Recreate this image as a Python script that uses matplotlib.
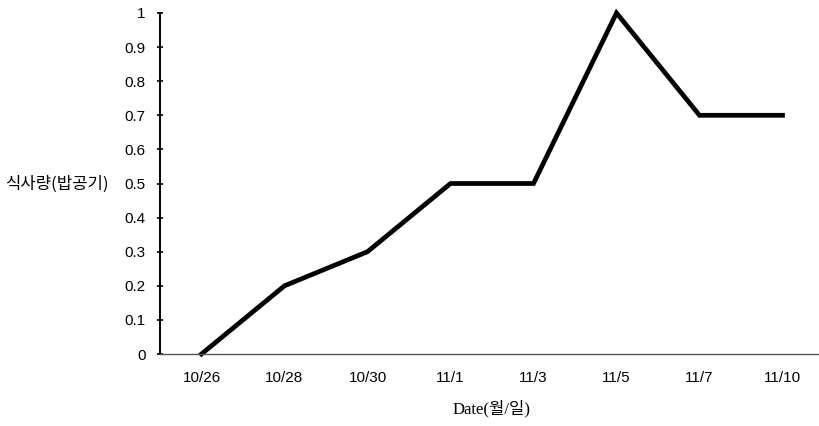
# line chart of meal amount by date
import matplotlib.pyplot as plt

dates = ['10/26', '10/28', '10/30', '11/1', '11/3', '11/5', '11/7', '11/10']
meal = [0, 0.2, 0.3, 0.5, 0.5, 1.0, 0.7, 0.7]
yticks = [0, 0.1, 0.2, 0.3, 0.4, 0.5, 0.6, 0.7, 0.8, 0.9, 1]
ytick_labels = ['0', '0.1', '0.2', '0.3', '0.4', '0.5', '0.6', '0.7', '0.8', '0.9', '1']

plt.rcParams['font.family'] = ['Liberation Sans', 'Noto Sans CJK KR']

fig = plt.figure(figsize=(8.19, 4.26), dpi=100)
ax = fig.add_axes([160/819, 1-354/426, 664/819, 341/426])

x = list(range(len(dates)))
ax.plot(x, meal, color='black', lw=3.4, solid_joinstyle='miter', clip_on=False)

ax.set_xlim(-0.5, len(dates) - 0.5)
ax.set_ylim(0, 1)
ax.set_xticks(x)
ax.set_xticklabels(dates, fontsize=11)
ax.set_yticks(yticks)
ax.set_yticklabels(ytick_labels, fontsize=11)
ax.tick_params(axis='x', length=0, pad=12)
ax.tick_params(axis='y', direction='inout', length=5, width=1.2, pad=8)

for s in ['top', 'right']:
    ax.spines[s].set_visible(False)
ax.spines['left'].set_linewidth(1.4)
ax.spines['bottom'].set_color('#555555')
ax.spines['bottom'].set_linewidth(1.0)

ax.set_xlabel('Date(월/일)', fontsize=12, family=['Liberation Serif', 'Noto Sans CJK KR'], labelpad=11)
fig.text(5/819, 1-184/426, '식사량(밥공기)', fontsize=12, family=['Noto Sans CJK KR'],
         ha='left', va='center')

fig.savefig('out.png', dpi=100)
